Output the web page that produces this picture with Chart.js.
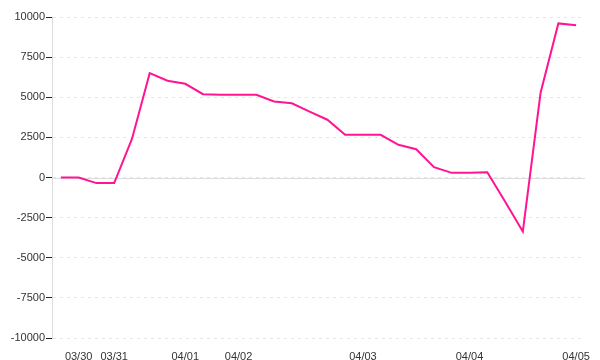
<!DOCTYPE html>
<html>
<head>
<meta charset="utf-8">
<script src="https://cdn.jsdelivr.net/npm/chart.js@4/dist/chart.umd.min.js"></script>
<style>
  html, body { margin: 0; padding: 0; background: #fff; }
  #wrap { width: 600px; height: 360px; }
</style>
</head>
<body>
<div id="wrap"><canvas id="myChart"></canvas></div>
<script>
// x labels: only the first sample of each day carries a date
const dayLabels = ['', '03/30', '', '03/31', '', '', '', '04/01', '', '', '04/02', '', '', '', '', '', '', '04/03', '', '', '', '', '', '04/04', '', '', '', '', '', '04/05'];
const values = [0, 0, -350, -350, 2400, 6500, 6030, 5840, 5190, 5150, 5150, 5150, 4740, 4620, 4100, 3600, 2660, 2660, 2660, 2040, 1760, 640, 290, 290, 330, -1500, -3370, 5280, 9600, 9480];
const yMin = -10000;
const yMax = 10000;
const yStep = 2500;

// solid zero line on top of the dashed grid
const zeroLine = {
  id: 'zeroLine',
  beforeDatasetsDraw(chart) {
    const { ctx, chartArea, scales } = chart;
    const y = Math.round(scales.y.getPixelForValue(0)) + 0.5;
    ctx.save();
    ctx.strokeStyle = '#dddddd';
    ctx.lineWidth = 1;
    ctx.beginPath();
    ctx.moveTo(chartArea.left, y);
    ctx.lineTo(chartArea.right, y);
    ctx.stroke();
    ctx.restore();
  }
};

new Chart(document.getElementById('myChart'), {
  type: 'line',
  data: {
    labels: dayLabels,
    datasets: [{
      data: values,
      borderColor: '#ff1493',
      borderWidth: 2,
      pointRadius: 0,
      tension: 0,
      fill: false
    }]
  },
  options: {
    responsive: true,
    maintainAspectRatio: false,
    animation: false,
    layout: { padding: { top: 17, right: 15, left: 0, bottom: 0 } },
    plugins: { legend: { display: false }, tooltip: { enabled: false } },
    scales: {
      x: {
        offset: true,
        grid: { display: false, offset: true },
        border: { display: false },
        ticks: {
          autoSkip: false,
          maxRotation: 0,
          padding: 4,
          color: '#333',
          font: { family: 'Liberation Sans', size: 11 }
        },
        afterFit(scale) { scale.height = 22; }
      },
      y: {
        min: yMin,
        max: yMax,
        ticks: {
          stepSize: yStep,
          padding: 1,
          color: '#333',
          font: { family: 'Liberation Sans', size: 11 },
          callback: (v) => String(v)
        },
        grid: {
          color: '#e6e6e6',
          tickColor: '#222',
          tickLength: 6
        },
        border: { color: '#dddddd', dash: [3, 4] },
        afterFit(scale) { scale.width = 52; }
      }
    }
  },
  plugins: [zeroLine]
});
</script>
</body>
</html>
